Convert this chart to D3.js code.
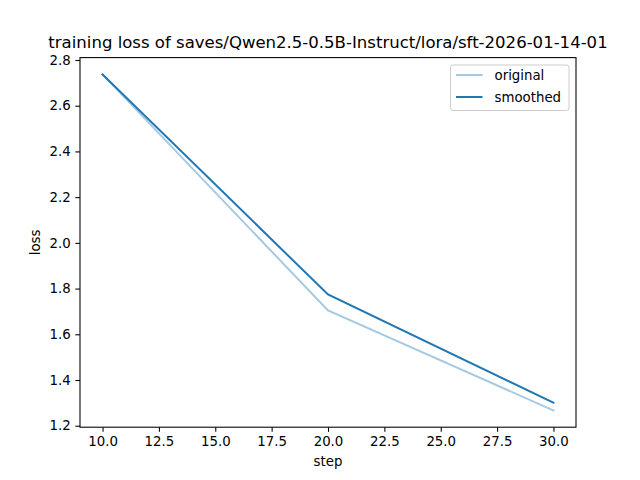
<!DOCTYPE html>
<html><head><meta charset="utf-8">
<script src="https://cdn.jsdelivr.net/npm/d3@7"></script>
<style>body{margin:0;background:#fff}svg{display:block;font-family:"DejaVu Sans",sans-serif}</style>
</head><body>
<svg id="c" width="640" height="480"></svg>
<script>
const steps = [10, 20, 30];
const original = [2.737, 1.704, 1.267];
const smoothed = [2.737, 1.774, 1.301];
const xTicks = [10, 12.5, 15, 17.5, 20, 22.5, 25, 27.5, 30];
const yTicks = [1.2, 1.4, 1.6, 1.8, 2.0, 2.2, 2.4, 2.6, 2.8];
const seriesNames = ["original", "smoothed"];
const titleText = "training loss of saves/Qwen2.5-0.5B-Instruct/lora/sft-2026-01-14-01";

const svg = d3.select("#c");
const L = 80, R = 576, T = 57.6, B = 427.2;
const blue = "#1f77b4";

const xExt = d3.extent(steps), xPad = (xExt[1]-xExt[0])*0.05;
const allY = original.concat(smoothed);
const yExt = d3.extent(allY), yPad = (yExt[1]-yExt[0])*0.05;
const x = d3.scaleLinear().domain([xExt[0]-xPad, xExt[1]+xPad]).range([L, R]);
const y = d3.scaleLinear().domain([yExt[0]-yPad, yExt[1]+yPad]).range([B, T]);

const line = d3.line().x((d,i)=>x(steps[i])).y(d=>y(d));
svg.append("path").datum(original).attr("d", line).attr("fill","none")
  .attr("stroke", blue).attr("stroke-opacity",0.4).attr("stroke-width",2).attr("stroke-linecap","square");
svg.append("path").datum(smoothed).attr("d", line).attr("fill","none")
  .attr("stroke", blue).attr("stroke-width",2).attr("stroke-linecap","square");

// axes
const xa = svg.append("g").attr("transform",`translate(0,${B})`)
  .call(d3.axisBottom(x).tickValues(xTicks).tickFormat(d3.format(".1f")).tickSizeInner(4.67).tickSizeOuter(0).tickPadding(4.67));
const ya = svg.append("g").attr("transform",`translate(${L},0)`)
  .call(d3.axisLeft(y).tickValues(yTicks).tickFormat(d3.format(".1f")).tickSizeInner(4.67).tickSizeOuter(0).tickPadding(4.67));
[xa, ya].forEach(g=>{
  g.select(".domain").remove();
  g.selectAll(".tick line").attr("stroke","#000").attr("stroke-width",1.07);
  g.selectAll(".tick text").attr("fill","#000").style("font-size","13.33px").style("font-family","DejaVu Sans");
});
svg.append("rect").attr("x",L).attr("y",T).attr("width",R-L).attr("height",B-T)
  .attr("fill","none").attr("stroke","#000").attr("stroke-width",1.07);

// labels
svg.append("text").attr("x",(L+R)/2).attr("y",48).attr("text-anchor","middle")
  .style("font-size","16.55px").text(titleText);
svg.append("text").attr("x",(L+R)/2).attr("y",466).attr("text-anchor","middle")
  .style("font-size","13.33px").text("step");
svg.append("text").attr("transform",`translate(40,${(T+B)/2}) rotate(-90)`).attr("text-anchor","middle")
  .style("font-size","13.33px").text("loss");

// legend
const lg = svg.append("g");
lg.append("rect").attr("x",450.5).attr("y",65).attr("width",118.5).attr("height",45.5).attr("rx",2.5)
  .attr("fill","#fff").attr("fill-opacity",0.8).attr("stroke","#cccccc").attr("stroke-width",1);
seriesNames.forEach((n,i)=>{
  const yy = 75 + i*22;
  lg.append("line").attr("x1",456).attr("x2",482.5).attr("y1",yy).attr("y2",yy)
    .attr("stroke",blue).attr("stroke-opacity", i===0?0.4:1).attr("stroke-width",2);
  lg.append("text").attr("x",494.5).attr("y",yy+4.7).style("font-size","13.33px").text(n);
});
</script>
</body></html>
